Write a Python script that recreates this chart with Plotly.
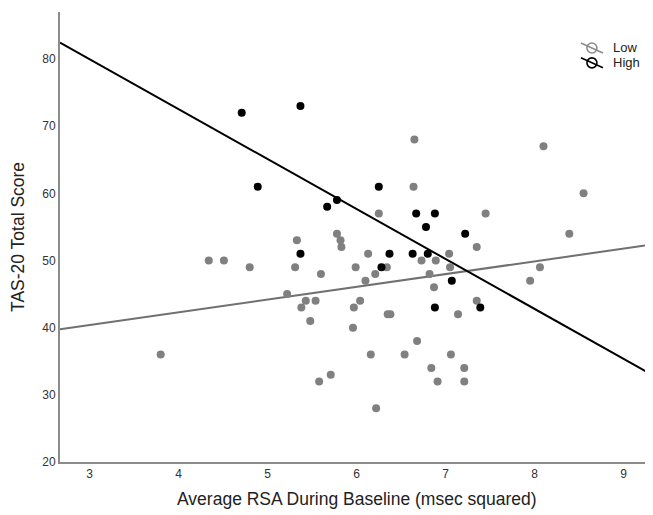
import numpy as np
import plotly.graph_objects as go

# ---- data ----
low_rsa = [3.80, 4.34, 4.51, 4.80, 5.22, 5.31, 5.33, 5.38, 5.43, 5.48, 5.54, 5.58,
           5.60, 5.71, 5.78, 5.82, 5.83, 5.96, 5.97, 5.99, 6.04, 6.10, 6.13, 6.16,
           6.21, 6.22, 6.25, 6.34, 6.35, 6.38, 6.54, 6.64, 6.65, 6.68, 6.73, 6.82,
           6.84, 6.87, 6.89, 6.91, 7.04, 7.05, 7.06, 7.14, 7.21, 7.21, 7.35, 7.35,
           7.45, 7.95, 8.06, 8.10, 8.39, 8.55]
low_tas = [36, 50, 50, 49, 45, 49, 53, 43, 44, 41, 44, 32,
           48, 33, 54, 53, 52, 40, 43, 49, 44, 47, 51, 36,
           48, 28, 57, 49, 42, 42, 36, 61, 68, 38, 50, 48,
           34, 46, 50, 32, 51, 49, 36, 42, 34, 32, 44, 52,
           57, 47, 49, 67, 54, 60]

high_rsa = [4.71, 5.37, 4.89, 6.25, 5.78, 5.67, 6.67, 6.88, 6.78, 7.22,
            5.37, 6.37, 6.63, 6.80, 6.28, 7.07, 6.88, 7.39]
high_tas = [72, 73, 61, 61, 59, 58, 57, 57, 55, 54,
            51, 51, 51, 51, 49, 47, 43, 43]

# fitted regression lines (intercept, slope)
low_fit = (34.69, 1.898)
high_fit = (102.3, -7.439)

group_names = ["Low", "High"]
x_ticks = [3, 4, 5, 6, 7, 8, 9]
y_ticks = [20, 30, 40, 50, 60, 70, 80]
x_range = [2.669, 9.33]
y_range = [20, 87]

GRAY = "#808080"
BLACK = "#000000"
FONT = "Arial, Liberation Sans, sans-serif"

fig = go.Figure()

xs = np.array(x_range)
fig.add_trace(go.Scatter(x=xs, y=low_fit[0] + low_fit[1] * xs, mode="lines",
                         line=dict(color="#707070", width=2), showlegend=False,
                         hoverinfo="skip", name=group_names[0] + " fit"))
fig.add_trace(go.Scatter(x=xs, y=high_fit[0] + high_fit[1] * xs, mode="lines",
                         line=dict(color=BLACK, width=2), showlegend=False,
                         hoverinfo="skip", name=group_names[1] + " fit"))

fig.add_trace(go.Scatter(x=low_rsa, y=low_tas, mode="markers",
                         marker=dict(color=GRAY, size=8, line=dict(width=0)),
                         showlegend=False, name=group_names[0]))
fig.add_trace(go.Scatter(x=high_rsa, y=high_tas, mode="markers",
                         marker=dict(color=BLACK, size=8, line=dict(width=0)),
                         showlegend=False, name=group_names[1]))

# hand-drawn legend: open circle crossed by a diagonal line, then label
shapes = []
annotations = []
leg_x = 0.897
leg_ys = [0.92, 0.887]
for name, col, ly in zip(group_names, ["#8c8c8c", BLACK], leg_ys):
    shapes.append(dict(type="circle", xref="paper", yref="paper",
                       xsizemode="pixel", ysizemode="pixel",
                       xanchor=leg_x, yanchor=ly, x0=-5, x1=5, y0=-5, y1=5,
                       line=dict(color=col, width=1.6)))
    shapes.append(dict(type="line", xref="paper", yref="paper",
                       xsizemode="pixel", ysizemode="pixel",
                       xanchor=leg_x, yanchor=ly, x0=-11, x1=11, y0=5, y1=-5,
                       line=dict(color=col, width=1.6)))
    annotations.append(dict(text=name, xref="paper", yref="paper", x=0.93, y=ly,
                            xanchor="left", yanchor="middle", showarrow=False,
                            font=dict(size=13, color="#222222")))

annotations += [
    dict(text="Average RSA During Baseline (msec squared)", xref="paper", yref="paper",
         x=0.5, y=-0.082, xanchor="center", yanchor="middle", showarrow=False,
         font=dict(size=17.5, color="#222222")),
    dict(text="TAS-20 Total Score", xref="paper", yref="paper",
         x=-0.0708, y=0.5, xanchor="center", yanchor="middle", showarrow=False,
         textangle=-90, font=dict(size=17.5, color="#222222")),
]

fig.update_layout(
    width=645, height=507,
    margin=dict(l=52, r=0, t=4, b=53),
    paper_bgcolor="white", plot_bgcolor="white",
    font=dict(family=FONT, color="#333333", size=12),
    showlegend=False,
    xaxis=dict(range=x_range, tickvals=x_ticks, showgrid=False, zeroline=False,
               showline=True, linecolor="#8c8c8c", linewidth=2, ticks="",
               tickfont=dict(size=12, color="#333333")),
    yaxis=dict(range=y_range, tickvals=y_ticks, showgrid=False, zeroline=False,
               showline=True, linecolor="#8c8c8c", linewidth=2, ticks="",
               tickfont=dict(size=12, color="#333333")),
    shapes=shapes,
    annotations=annotations,
)

fig.write_html("out.html")
